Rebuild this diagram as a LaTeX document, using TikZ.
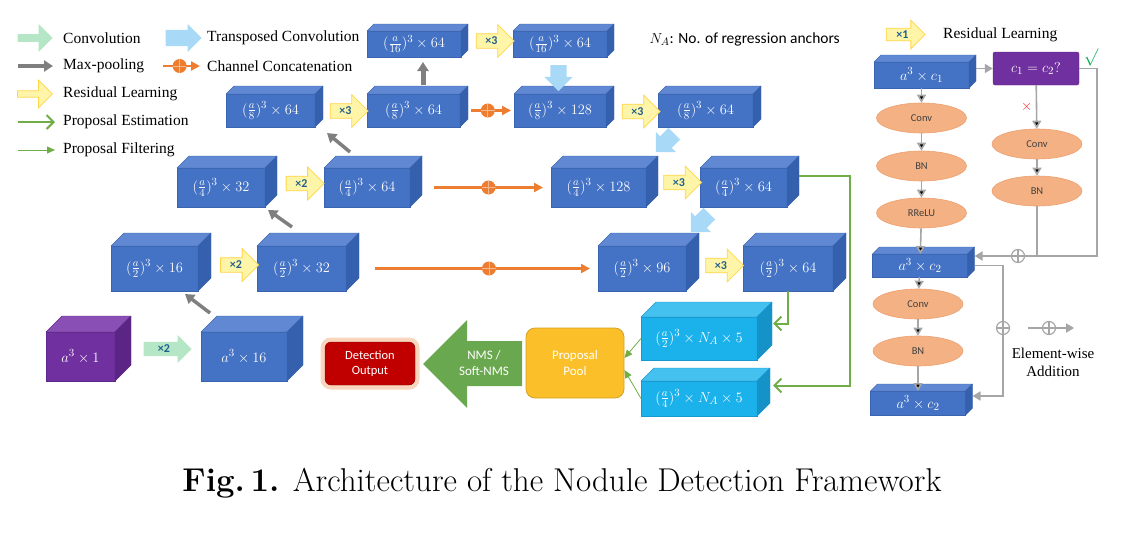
\documentclass[tikz,border=0pt]{standalone}
\usepackage{fontspec}
\usepackage{amsmath}
\usetikzlibrary{arrows.meta}
\usetikzlibrary{positioning}
\usetikzlibrary{shapes.geometric}
\usetikzlibrary{shapes.arrows}
\usetikzlibrary{calc}

\newfontfamily\legfont{Liberation Serif}
\newfontfamily\sansfont{Carlito}

\definecolor{blufront}{HTML}{4472C4}
\definecolor{blutop}{HTML}{6189D3}
\definecolor{bluside}{HTML}{3560AE}
\definecolor{bluedge}{HTML}{3B64B0}
\definecolor{purfront}{HTML}{7030A0}
\definecolor{purtop}{HTML}{8A4FB5}
\definecolor{purside}{HTML}{5B2585}
\definecolor{puredge}{HTML}{5E2888}
\definecolor{cyafront}{HTML}{1BB1EB}
\definecolor{cyatop}{HTML}{45C1F0}
\definecolor{cyaside}{HTML}{1592C8}
\definecolor{cyaedge}{HTML}{1698D0}
\definecolor{resfill}{HTML}{FFF5A8}
\definecolor{resdraw}{HTML}{FFD54A}
\definecolor{restext}{HTML}{1F5F8B}
\definecolor{convfill}{HTML}{B5E6C5}
\definecolor{tconvfill}{HTML}{A8DAF7}
\definecolor{poolgray}{HTML}{7F7F7F}
\definecolor{catorange}{HTML}{ED7D31}
\definecolor{estgreen}{HTML}{70AD47}
\definecolor{opfill}{HTML}{F4B183}
\definecolor{opdraw}{HTML}{EDA070}
\definecolor{lgray}{HTML}{A6A6A6}
\definecolor{detred}{HTML}{C00000}
\definecolor{glow}{HTML}{F8CBAD}
\definecolor{poolyel}{HTML}{FBBF2A}
\definecolor{nmsgreen}{HTML}{6AA84F}
\definecolor{okgreen}{HTML}{00B050}

\newcommand{\cuboid}[7][blu]{%
  \node[block, fill=#1front, draw=#1edge, minimum width=#4pt, minimum height=#5pt] (#2) at #3 {#7};
  \filldraw[fill=#1top, draw=#1edge, line join=round] (#2.north west) -- ++(#6,-#6) -- ([shift={(#6,-#6)}]#2.north east) -- (#2.north east) -- cycle;
  \filldraw[fill=#1side, draw=#1edge, line join=round] (#2.north east) -- ++(#6,-#6) -- ([shift={(#6,-#6)}]#2.south east) -- (#2.south east) -- cycle;
}

\begin{document}
\begin{tikzpicture}[x=1pt, y=-1pt,
    block/.style={rectangle, inner sep=0pt, outer sep=0pt, line width=0.6pt, text=white, font=\fontsize{15}{17}\selectfont},
    legtext/.style={anchor=west, inner sep=0pt, font=\legfont\fontsize{15.5}{18}\selectfont},
    resarrow/.style={single arrow, draw=resdraw, fill=resfill, line width=0.8pt, minimum height=38pt, minimum width=33pt, single arrow head extend=8pt, inner sep=2pt, text=restext, font=\sansfont\bfseries\fontsize{12}{12}\selectfont},
    convarrow/.style={single arrow, fill=convfill, minimum height=48pt, minimum width=28pt, single arrow head extend=6pt, inner sep=2pt, text=restext, font=\sansfont\bfseries\fontsize{12}{12}\selectfont},
    tconv/.style={single arrow, fill=tconvfill, minimum height=26pt, minimum width=28pt, single arrow head extend=6pt, inner sep=8pt},
    poolarrow/.style={draw=poolgray, line width=3.5pt, -{Triangle[length=9pt,width=11pt]}},
    catarrow/.style={draw=catorange, line width=2.2pt, -{Triangle[length=9pt,width=9pt]}},
    catdot/.style={circle, fill=catorange, minimum size=14pt, inner sep=0pt, path picture={\draw[-, catorange!55!white, line width=0.8pt] (path picture bounding box.north) -- (path picture bounding box.south) (path picture bounding box.west) -- (path picture bounding box.east);}},
    estarrow/.style={draw=estgreen, line width=2pt, -{Straight Barb[length=7pt,width=14pt]}},
    filtarrow/.style={draw=estgreen, line width=0.8pt, -{Triangle[length=8pt,width=7pt]}},
    gline/.style={draw=lgray, line width=1.6pt},
    garrow/.style={gline, -{Triangle[length=8pt,width=9pt]}},
    addop/.style={circle, draw=lgray, line width=1.2pt, fill=white, minimum size=13pt, inner sep=0pt, path picture={\draw[-, lgray, line width=1.2pt] (path picture bounding box.north) -- (path picture bounding box.south) (path picture bounding box.west) -- (path picture bounding box.east);}},
    op/.style={ellipse, fill=opfill, draw=opdraw, line width=0.6pt, minimum width=90pt, minimum height=30pt, inner sep=0pt, text=black!75, font=\sansfont\fontsize{10.5}{12}\selectfont},
    chkbox/.style={rectangle, rounded corners=2pt, fill=purfront, draw=puredge, text=white, minimum width=86pt, minimum height=33pt, font=\fontsize{15}{17}\selectfont},
    detect/.style={rectangle, rounded corners=6pt, fill=detred, draw=detred!70!black, text=white, minimum width=90pt, minimum height=43pt, align=center, font=\sansfont\fontsize{12.5}{15}\selectfont, preaction={draw=glow, line width=9pt, opacity=.8}},
    poolbox/.style={rectangle, rounded corners=9pt, fill=poolyel, draw=poolyel!85!black, line width=0.8pt, minimum width=98pt, minimum height=70pt, text=white, align=center, font=\sansfont\fontsize{13}{16}\selectfont},
    nmstext/.style={text=white, align=center, font=\sansfont\fontsize{13}{16}\selectfont}
  ]
  \useasboundingbox (0,0) rectangle (1138,554);

  \node[legtext] (l_conv) at (63,38) {Convolution};
  \node[legtext] (l_pool) at (63,66) {Max-pooling};
  \node[legtext] (l_res) at (63,94) {Residual Learning};
  \node[legtext] (l_est) at (63,122) {Proposal Estimation};
  \node[legtext] (l_filt) at (63,150) {Proposal Filtering};
  \node[legtext] (l_tconv) at (207,38) {Transposed Convolution};
  \node[legtext] (l_cat) at (207,66) {Channel Concatenation};
  \node[convarrow, minimum height=35pt] (s_conv) [left=10pt of l_conv] {};
  \node[resarrow, minimum height=35pt, minimum width=28pt] (s_res) [left=10pt of l_res] {};
  \node[tconv, minimum height=36pt] (s_tconv) [left=5pt of l_tconv] {};
  \draw[poolarrow] ([xshift=-45pt]l_pool.west) -- ([xshift=-10pt]l_pool.west);
  \draw[estarrow] ([xshift=-45pt]l_est.west) -- ([xshift=-8pt]l_est.west);
  \draw[filtarrow] ([xshift=-45pt]l_filt.west) -- ([xshift=-8pt]l_filt.west);
  \draw[catarrow] ([xshift=-44pt]l_cat.west) -- ([xshift=-7pt]l_cat.west) node[catdot, pos=.45] {};
  \node[anchor=west, font=\sansfont\fontsize{15.5}{18}\selectfont] (n_a) at (646,39) {$N_A$: No. of regression anchors};

  \cuboid{b_16a}{(414,44)}{94}{26}{7}{$(\frac{a}{16})^3\times 64$}
  \cuboid{b_16b}{(560,44)}{94}{26}{7}{$(\frac{a}{16})^3\times 64$}
  \cuboid{b_8a}{(270.5,110.5)}{89}{33}{8}{$(\frac{a}{8})^3\times 64$}
  \cuboid{b_8b}{(413.5,110.5)}{93}{33}{8}{$(\frac{a}{8})^3\times 64$}
  \cuboid{b_8c}{(560,110.5)}{92}{33}{8}{$(\frac{a}{8})^3\times 128$}
  \cuboid{b_8d}{(705.5,110.5)}{95}{33}{8}{$(\frac{a}{8})^3\times 64$}
  \cuboid{b_4a}{(221,187.5)}{88}{39}{12}{$(\frac{a}{4})^3\times 32$}
  \cuboid{b_4b}{(367,187.5)}{86}{39}{12}{$(\frac{a}{4})^3\times 64$}
  \cuboid{b_4c}{(598.5,187.5)}{95}{39}{12}{$(\frac{a}{4})^3\times 128$}
  \cuboid{b_4d}{(743.5,187.5)}{87}{39}{12}{$(\frac{a}{4})^3\times 64$}
  \cuboid{b_2a}{(154.5,268.5)}{87}{45}{13}{$(\frac{a}{2})^3\times 16$}
  \cuboid{b_2b}{(301.5,268.5)}{89}{45}{13}{$(\frac{a}{2})^3\times 32$}
  \cuboid{b_2c}{(642,268.5)}{88}{45}{13}{$(\frac{a}{2})^3\times 96$}
  \cuboid{b_2d}{(788,268.5)}{90}{45}{13}{$(\frac{a}{2})^3\times 64$}
  \cuboid[pur]{b_0a}{(80.5,356.5)}{69}{49}{16}{$a^3\times 1$}
  \cuboid{b_0b}{(244,356.5)}{86}{49}{16}{$a^3\times 16$}
  \cuboid[cya]{a_2}{(699,338.5)}{116}{43}{15}{$(\frac{a}{2})^3\times N_A\times 5$}
  \cuboid[cya]{a_4}{(699,398.5)}{116}{35}{13}{$(\frac{a}{4})^3\times N_A\times 5$}

  \node[resarrow] (x_16) at (491.5,41) {×3};
  \node[resarrow] (x_8a) at (345.5,111) {×3};
  \node[resarrow] (x_8c) at (637.5,111.5) {×3};
  \node[resarrow] (x_4a) at (301.5,183.5) {×2};
  \node[resarrow] (x_4c) at (679,182.5) {×3};
  \node[resarrow] (x_2a) at (236,265) {×2};
  \node[resarrow] (x_2c) at (721,265.5) {×3};
  \node[convarrow] (x_0) at (164,349) {×2};
  \node[tconv, rotate=270] (t_16) at (558.5,74) {};
  \node[tconv, rotate=225] (t_8) at (668,140) {};
  \node[tconv, rotate=225] (t_4) at (703,220) {};

  \draw[poolarrow] ([shift={(9,-19)}]b_0b.north west) -- ([shift={(-13,3)}]b_2a.south east);
  \draw[poolarrow] ([shift={(35,-19)}]b_2b.north west) -- ([shift={(3,3)}]b_4a.south east);
  \draw[poolarrow] ([shift={(26,-16)}]b_4b.north west) -- ([shift={(12,6)}]b_8a.south east);
  \draw[poolarrow, line width=5pt] ([shift={(56,-9)}]b_8b.north west) -- ([shift={(56,5)}]b_16a.south west);

  \draw[catarrow] ([xshift=11pt]b_8b.east) -- ([xshift=-3pt]b_8c.west) node[catdot, pos=.42] {};
  \draw[catarrow] ([xshift=24pt]b_4b.east) -- ([xshift=-8pt]b_4c.west) node[catdot, pos=.5] {};
  \draw[catarrow] ([xshift=29pt]b_2b.east) -- ([xshift=-8pt]b_2c.west) node[catdot, pos=.53] {};

  \draw[estarrow] ([shift={(12,-12)}]b_4d.east) -- ++(51,0) |- ([shift={(16,-13)}]a_4.east);
  \draw[estarrow] (b_2d.south) |- ([shift={(16,-15)}]a_2.east);

  \node[poolbox] (pool) at (575,363) {Proposal\\Pool};
  \node[detect] (det) at (370,363.5) {Detection\\Output};
  \fill[nmsgreen] (522,341) -- (467,341) -- (467,320) -- (423,364) -- (467,408) -- (467,386) -- (522,386) -- cycle;
  \node[nmstext] (nms) at (484,363.5) {NMS /\\Soft-NMS};
  \draw[filtarrow] (a_2.west) -- ([yshift=5pt]pool.east);
  \draw[filtarrow] (a_4.west) -- ([yshift=-7pt]pool.east);

  \node[resarrow, minimum height=39pt, minimum width=25pt] (x_1) at (902.5,34.5) {×1};
  \node[legtext] (l_res2) at (943,35) {Residual Learning};
  \cuboid{r_1}{(921.5,75)}{95}{26}{7}{$a^3\times c_1$}
  \cuboid{r_2}{(920,265.5)}{95}{23}{7}{$a^3\times c_2$}
  \cuboid{r_3}{(918,403)}{95}{24}{7}{$a^3\times c_2$}
  \node[chkbox] (chk) at (1036,68.5) {$c_1 = c_2?$};
  \node[op] (conv_a) at (921.5,118) {Conv};
  \node[op] (bn_a) at (921.5,166) {BN};
  \node[op] (relu) at (921.5,213) {RReLU};
  \node[op] (conv_b) at (1037,144) {Conv};
  \node[op] (bn_b) at (1037,191) {BN};
  \node[op] (conv_c) at (918,304) {Conv};
  \node[op] (bn_c) at (918,351) {BN};
  \path[garrow] (r_1) edge (conv_a) (conv_a) edge (bn_a) (bn_a) edge (relu) (relu) edge (r_2)
    (r_2) edge (conv_c) (conv_c) edge (bn_c) (bn_c) edge (r_3)
    (chk) edge node[left, text=red!85!white, font=\fontsize{15}{15}\selectfont] {$\times$} (conv_b) (conv_b) edge (bn_b);
  \draw[garrow] ([shift={(7,-6.5)}]r_1.east) -- (chk.west);
  \node[addop] (add_a) at (1018,256) {};
  \node[addop] (add_b) at (1003,328) {};
  \draw[gline] (chk.east) -- ++(18,0) |- (add_a.east);
  \draw[gline] (bn_b.south) -- (bn_b.south |- add_a.center);
  \draw[garrow] (add_a.west) -- ([shift={(7,-9.5)}]r_2.east);
  \draw[gline] ([xshift=7pt]r_2.east) -| (add_b.north);
  \draw[garrow] (add_b.south) |- ([shift={(7,-7)}]r_3.east);
  \node[text=okgreen, font=\fontsize{17}{17}\selectfont] (ok) at (1091,57) {$\surd$};
  \node[addop] (add_c) at (1049,328) {};
  \draw[gline] ([xshift=-14pt]add_c.west) -- (add_c.west);
  \draw[garrow] (add_c.east) -- ++(18,0);
  \node[legtext, anchor=center, align=center, font=\legfont\fontsize{15}{18}\selectfont] (l_add) at (1053,362) {Element-wise\\Addition};

  \node[font=\fontsize{33}{38}\selectfont] (cap) at (562,483) {\textbf{Fig.\,1.} Architecture of the Nodule Detection Framework};
\end{tikzpicture}
\end{document}
